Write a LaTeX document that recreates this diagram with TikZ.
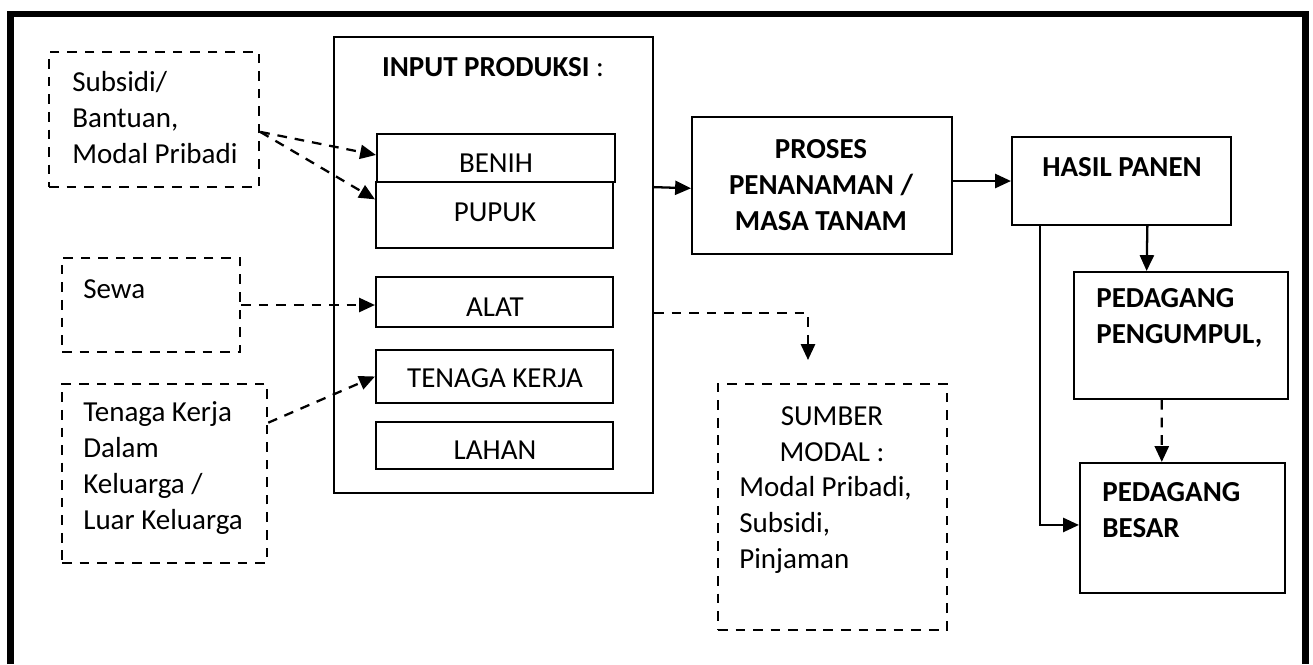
\documentclass[tikz,border=0pt]{standalone}
\usepackage{fontspec}
\setmainfont{Carlito}
\usetikzlibrary{arrows.meta,fit,calc}
\begin{document}
\begin{tikzpicture}[x=0.02cm,y=-0.02cm,
  solidbox/.style={draw, line width=1.2pt, inner sep=0pt},
  dashbox/.style={draw, line width=1.4pt, dash pattern=on 5.5pt off 4.5pt, inner sep=0pt},
  txt/.style={inner sep=0pt, font=\fontsize{16.5}{20.5}\selectfont},
  btxt/.style={txt, font=\fontsize{16.5}{20.5}\selectfont\bfseries},
  arr/.style={line width=1.3pt, -{Triangle[length=9pt,width=8pt]}},
  darr/.style={arr, dash pattern=on 5.5pt off 4.5pt}]
\useasboundingbox (0,0) rectangle (1313,664);

% outer frame (open at the bottom)
\draw[line width=3.8pt, line join=miter] (10.5,664) -- (10.5,14) -- (1305.5,14) -- (1305.5,664);

% production inputs
\node[solidbox, fit={(334,37) (653,493)}] (input) {};
\node[txt] (inputt) at (493,67) {\textbf{INPUT PRODUKSI} :};
\node[solidbox, fit={(377,134) (615,182)}] (benih) {};
\node[txt] at (496,163) {BENIH};
\node[solidbox, fit={(376,182) (613,248)}] (pupuk) {};
\node[txt] at (495,212) {PUPUK};
\node[solidbox, fit={(376,277) (613,327)}] (alat) {};
\node[txt] at (495,307) {ALAT};
\node[solidbox, fit={(376,350) (613,403)}] (tenaga) {};
\node[txt] at (495,378) {TENAGA KERJA};
\node[solidbox, fit={(376,422) (613,469)}] (lahan) {};
\node[txt] at (495,450) {LAHAN};

% sources on the left
\node[dashbox, fit={(49,52) (259,187)}] (subsidi) {};
\node[txt, anchor=west, align=left] at (72,118) {Subsidi/\\Bantuan,\\Modal Pribadi};
\node[dashbox, fit={(62,258) (240,352)}] (sewa) {};
\node[txt, anchor=west] at (83,289) {Sewa};
\node[dashbox, fit={(62,384) (267,563)}] (tkl) {};
\node[txt, anchor=west, align=left] at (83,468) {Tenaga Kerja\\Dalam\\Keluarga /\\Luar Keluarga};

% capital sources
\node[dashbox, fit={(718,384) (947,630)}] (sumber) {};
\node[txt, align=center] at (832,434) {SUMBER\\MODAL :};
\node[txt, anchor=west, align=left] at (739,525) {Modal Pribadi,\\Subsidi,\\Pinjaman};

% process and marketing chain
\node[solidbox, fit={(692,117) (952,254)}] (proses) {};
\node[btxt, align=center] at (821,185) {PROSES\\PENANAMAN /\\MASA TANAM};
\node[solidbox, fit={(1012,137) (1231,225)}] (hasil) {};
\node[btxt] at (1122,167) {HASIL PANEN};
\node[solidbox, fit={(1074,272) (1288,399)}] (pengumpul) {};
\node[btxt, anchor=west, align=left] at (1096,318) {PEDAGANG\\PENGUMPUL,};
\node[solidbox, fit={(1080,463) (1285,593)}] (besar) {};
\node[btxt, anchor=west, align=left] at (1102,510) {PEDAGANG\\BESAR};

% connectors
\coordinate (subout) at ($(subsidi.north east)!0.59!(subsidi.south east)$);
\draw[darr] (subout) -- ($(benih.north west)!0.44!(benih.south west)$);
\draw[darr] (subout) -- ($(pupuk.north west)!0.27!(pupuk.south west)$);
\draw[darr] (sewa.east) -- (sewa.east -| alat.west);
\draw[darr] ($(tkl.north east)!0.22!(tkl.south east)$) -- (tenaga.west);

\coordinate (modalin) at (808,360);
\draw[darr] ($(input.north east)!0.605!(input.south east)$) -| (modalin);

\draw[arr] ($(input.north east)!0.33!(input.south east)$) -- ($(proses.north west)!0.52!(proses.south west)$);
\draw[arr] (proses.east |- hasil.west) -- (hasil.west);
\draw[arr] ($(hasil.south west)!0.617!(hasil.south east)$) -- ($(pengumpul.north west)!0.341!(pengumpul.north east)$);
\draw[darr] ($(pengumpul.south west)!0.411!(pengumpul.south east)$) -- ($(besar.north west)!0.400!(besar.north east)$);
\draw[line width=1.3pt, -{Triangle[length=9pt,width=8pt]}] ($(hasil.south west)!0.132!(hasil.south east)$) |- ($(besar.north west)!0.477!(besar.south west)$);
\end{tikzpicture}
\end{document}
